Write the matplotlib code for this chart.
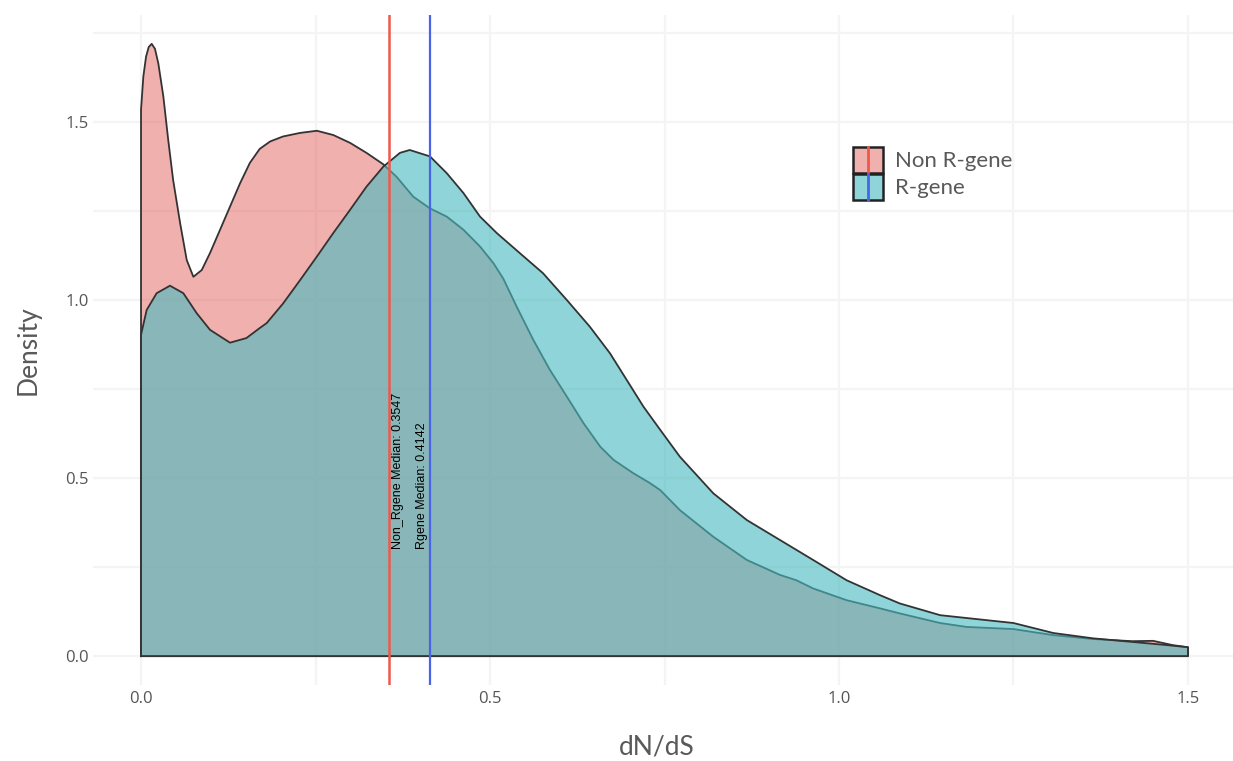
import matplotlib
matplotlib.use("Agg")
import matplotlib.pyplot as plt
from matplotlib.patches import Patch, Rectangle
from matplotlib.lines import Line2D
from matplotlib.legend_handler import HandlerBase

# density curves (dN/dS, density)
nonr_x = [0, 0.0033, 0.0072, 0.011, 0.0153, 0.02, 0.0248, 0.032, 0.039, 0.046, 0.056, 0.0655,
          0.075, 0.087, 0.0989, 0.113, 0.1275, 0.142, 0.156, 0.170, 0.185, 0.2035, 0.228,
          0.252, 0.2755, 0.2995, 0.323, 0.347, 0.366, 0.390, 0.414, 0.438, 0.462, 0.4857,
          0.505, 0.519, 0.538, 0.562, 0.586, 0.61, 0.634, 0.658, 0.677, 0.705, 0.729,
          0.744, 0.772, 0.82, 0.868, 0.9155, 0.939, 0.963, 1.011, 1.059, 1.087, 1.145,
          1.183, 1.25, 1.307, 1.364, 1.42, 1.45, 1.478, 1.5]
nonr_y = [1.534, 1.627, 1.683, 1.710, 1.719, 1.705, 1.664, 1.571, 1.449, 1.337, 1.216,
          1.112, 1.065, 1.084, 1.132, 1.196, 1.262, 1.328, 1.385, 1.424, 1.445, 1.459,
          1.469, 1.475, 1.463, 1.441, 1.413, 1.381, 1.346, 1.29, 1.257, 1.234, 1.197,
          1.15, 1.103, 1.06, 0.982, 0.888, 0.803, 0.729, 0.654, 0.588, 0.551, 0.514,
          0.486, 0.466, 0.41, 0.335, 0.27, 0.228, 0.213, 0.19, 0.157, 0.134, 0.12,
          0.093, 0.082, 0.076, 0.059, 0.048, 0.042, 0.043, 0.031, 0.025]

rgene_x = [0, 0.0081, 0.0224, 0.0415, 0.0606, 0.0797, 0.0989, 0.1275, 0.151, 0.170,
           0.180, 0.2035, 0.228, 0.252, 0.2755, 0.2995, 0.323, 0.347, 0.371, 0.385,
           0.414, 0.438, 0.462, 0.4857, 0.5096, 0.543, 0.576, 0.61, 0.643, 0.672, 0.696,
           0.72, 0.744, 0.772, 0.82, 0.868, 0.9155, 0.963, 1.011, 1.059, 1.087, 1.145,
           1.183, 1.25, 1.307, 1.364, 1.42, 1.47, 1.5]
rgene_y = [0.902, 0.972, 1.019, 1.040, 1.019, 0.963, 0.916, 0.880, 0.893, 0.921,
           0.935, 0.99, 1.056, 1.122, 1.188, 1.253, 1.318, 1.374, 1.413, 1.421,
           1.403, 1.356, 1.30, 1.234, 1.188, 1.131, 1.075, 1.0, 0.925, 0.85, 0.775,
           0.70, 0.635, 0.56, 0.457, 0.382, 0.326, 0.27, 0.213, 0.171, 0.148, 0.115,
           0.107, 0.093, 0.065, 0.05, 0.04, 0.031, 0.025]

nonr_median = 0.3547
rgene_median = 0.4142
labels = ["Non R-gene", "R-gene"]

pink = "#e3625f"
cyan = "#49bbc0"
edge = "#333333"
grid_c = "#f4f4f4"
txt_c = "#595959"

fig = plt.figure(figsize=(12.33, 7.61), dpi=100)
ax = fig.add_axes([93 / 1233, 1 - 685 / 761, 1140 / 1233, 670 / 761])

# closed polygons: curve + baseline
ax.fill([0] + nonr_x + [1.5], [0] + nonr_y + [0], facecolor=pink, alpha=0.5,
        edgecolor="none", zorder=2)
ax.plot([0] + nonr_x + [1.5, 0], [0] + nonr_y + [0, 0], color=edge, lw=1.3,
        solid_joinstyle="round", zorder=2)
ax.fill([0] + rgene_x + [1.5], [0] + rgene_y + [0], facecolor=cyan, alpha=0.62,
        edgecolor="none", zorder=3)
ax.plot([0] + rgene_x + [1.5, 0], [0] + rgene_y + [0, 0], color=edge, lw=1.3,
        solid_joinstyle="round", zorder=3)

ax.axvline(nonr_median, color="#f0584a", lw=1.8, zorder=4)
ax.axvline(rgene_median, color="#4a64e8", lw=1.6, zorder=4)
ax.text(nonr_median + 0.014, 0.3, "Non_Rgene Median: %.4f" % nonr_median, rotation=90,
        ha="center", va="bottom", fontsize=9, family="Liberation Sans", zorder=5)
ax.text(rgene_median - 0.011, 0.3, "Rgene Median: %.4f" % rgene_median, rotation=90,
        ha="center", va="bottom", fontsize=9, family="Liberation Sans", zorder=5)

ax.set_xlim(-0.0688, 1.5645)
ax.set_ylim(-0.081, 1.80)
ax.set_xticks([0, 0.5, 1.0, 1.5])
ax.set_xticklabels(["0.0", "0.5", "1.0", "1.5"])
ax.set_yticks([0, 0.5, 1.0, 1.5])
ax.set_yticklabels(["0.0", "0.5", "1.0", "1.5"])
ax.set_xticks([0.25, 0.75, 1.25], minor=True)
ax.set_yticks([0.25, 0.75, 1.25, 1.75], minor=True)
ax.grid(True, which="both", color=grid_c, lw=1.6, zorder=0)
ax.set_axisbelow(True)
ax.tick_params(which="both", length=0, labelsize=12, labelcolor="#555555")
ax.tick_params(axis="x", pad=4)
ax.tick_params(axis="y", pad=3)
for lab in ax.get_xticklabels() + ax.get_yticklabels():
    lab.set_family("Open Sans")
for s in ax.spines.values():
    s.set_visible(False)

fig.text(657 / 1233, 1 - 747 / 761, "dN/dS", ha="center", va="center",
         fontsize=19, family="Lato", color=txt_c)
fig.text(28 / 1233, 1 - 350 / 761, "Density", ha="center", va="center", rotation=90,
         fontsize=19, family="Lato", color=txt_c)


class MedianBox(HandlerBase):
    def create_artists(self, legend, orig, xd, yd, w, h, fs, trans):
        r = Rectangle((-xd, -yd), w, h, facecolor=orig.get_facecolor(),
                      edgecolor="#222222", lw=1.8, transform=trans)
        l = Line2D([-xd + w / 2] * 2, [-yd, -yd + h], color=orig.median_color,
                   lw=2, transform=trans)
        return [r, l]


h1 = Patch(facecolor=pink, alpha=0.5)
h1.median_color = "#f0584a"
h2 = Patch(facecolor=cyan, alpha=0.62)
h2.median_color = "#4a64e8"
leg = fig.legend([h1, h2], labels, loc="upper left",
                 bbox_to_anchor=(853 / 1233, 1 - 147 / 761),
                 handler_map={Patch: MedianBox()}, frameon=False,
                 prop={"family": "Lato", "size": 16}, labelcolor=txt_c,
                 borderpad=0, borderaxespad=0, handlelength=1.36, handleheight=1.42,
                 handletextpad=0.55, labelspacing=0.05)

fig.savefig("out.png", dpi=100)
